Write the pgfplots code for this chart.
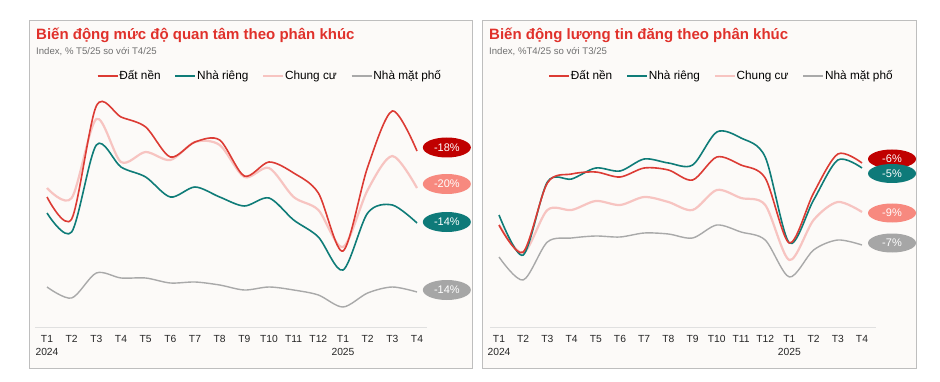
\documentclass[border=0pt]{standalone}
\usepackage{fontspec}
\setmainfont{Liberation Sans}
\usepackage{pgfplots}
\pgfplotsset{compat=1.18}
\usepackage{pgfplotstable}
\usetikzlibrary{shapes.geometric}

\definecolor{cRed}{HTML}{DC3B34}
\definecolor{cTeal}{HTML}{0F7C78}
\definecolor{cPink}{HTML}{F7C4C1}
\definecolor{cGray}{HTML}{A9A9A9}
\definecolor{lRed}{HTML}{C00000}
\definecolor{lPink}{HTML}{F7897F}
\definecolor{lTeal}{HTML}{0E7A79}
\definecolor{lGray}{HTML}{A6A6A6}
\definecolor{titleRed}{HTML}{E0312B}
\definecolor{panelBg}{HTML}{FCFAF8}
\definecolor{panelBorder}{HTML}{BEBEBE}
\definecolor{tickText}{HTML}{262626}
\definecolor{subText}{HTML}{707070}

% Index values (relative scale)
\pgfplotstableread{
x  datnen nharieng chungcu matpho
0  184 168 193 94
1  162 149 183 83
2  275 236 262 108
3  264 214 219 103
4  254 204 229 103
5  224 184 221 98
6  239 194 239 99
7  241 184 236 96
8  205 175 204 91
9  219 183 213 94
10 208 161 184 91
11 188 144 171 86
12 130 111 134 74
13 214 168 191 88
14 270 176 225 94
15 230 158 193 89
}\interest

\pgfplotstableread{
x  datnen nharieng chungcu matpho
0  156 166 156 124
1  129 126 128 101
2  198 199 171 139
3  207 202 171 143
4  209 213 180 145
5  204 210 176 144
6  213 222 184 148
7  211 218 179 147
8  201 216 171 143
9  224 249 191 156
10 216 243 183 149
11 203 224 176 141
12 138 138 121 104
13 188 181 161 131
14 227 221 179 141
15 218 213 169 136
}\listings

\tikzset{
  lab/.style={ellipse, text=white, minimum width=48pt, minimum height=20pt, inner sep=0pt, font=\fontsize{11}{12}\selectfont},
}

\pgfplotsset{
  panel/.style={
    scale only axis, height=235pt,
    xmin=0, xmax=15, ymin=51, ymax=286,
    clip=false,
    axis line style={draw=none},
    major tick length=0pt,
    ytick=\empty,
    xtick={0,...,15},
    xticklabels={{T1\\2024},T2,T3,T4,T5,T6,T7,T8,T9,T10,T11,T12,{T1\\2025},T2,T3,T4},
    xticklabel style={align=center, font=\fontsize{10.3}{13.5}\selectfont, text=tickText, inner sep=0pt, yshift=-5pt},
    legend columns=4,
    legend image code/.code={\draw[##1] (0pt,0pt) -- (20pt,0pt);},
    legend style={draw=none, fill=none, anchor=center, inner sep=0pt,
      font=\fontsize{11.8}{13}\selectfont,
      /tikz/every even column/.append style={column sep=13pt},
      nodes={inner sep=1pt}},
  },
  sRed/.style={cRed, line width=1.6pt, smooth, tension=0.5},
  sTeal/.style={cTeal, line width=1.6pt, smooth, tension=0.5},
  sPink/.style={cPink, line width=2.2pt, smooth, tension=0.5},
  sGray/.style={cGray, line width=1.4pt, smooth, tension=0.5},
}

\begin{document}
\begin{tikzpicture}
\path[use as bounding box, fill=white] (0pt,0pt) rectangle (940pt,381pt);
% panels
\draw[panelBorder, fill=panelBg, line width=0.9pt] (29pt,13pt) rectangle (472pt,361pt);
\draw[panelBorder, fill=panelBg, line width=0.9pt] (482pt,13pt) rectangle (916pt,361pt);
% titles
\node[anchor=base west, inner sep=0pt, text=titleRed, font=\bfseries\fontsize{15}{17}\selectfont] at (36pt,341pt) {Biến động mức độ quan tâm theo phân khúc};
\node[anchor=base west, inner sep=0pt, text=subText, font=\fontsize{9.6}{11}\selectfont] at (36pt,326.7pt) {Index, \% T5/25 so với T4/25};
\node[anchor=base west, inner sep=0pt, text=titleRed, font=\bfseries\fontsize{15}{17}\selectfont] at (489pt,341pt) {Biến động lượng tin đăng theo phân khúc};
\node[anchor=base west, inner sep=0pt, text=subText, font=\fontsize{9.6}{11}\selectfont] at (489pt,326.7pt) {Index, \%T4/25 so với T3/25};

% left panel
\begin{axis}[panel, width=370pt, at={(47pt,51pt)}, anchor=south west,
  legend style={at={(0.601,1.081)}}]
  \addlegendimage{cRed, line width=1.6pt}
  \addlegendentry{Đất nền}
  \addlegendimage{cTeal, line width=1.6pt}
  \addlegendentry{Nhà riêng}
  \addlegendimage{cPink, line width=1.6pt}
  \addlegendentry{Chung cư}
  \addlegendimage{cGray, line width=1.6pt}
  \addlegendentry{Nhà mặt phố}
  \draw[black!12, line width=0.8pt] (axis cs:-0.49,54) -- (axis cs:15.4,54);
  \addplot[sPink, forget plot] table[x=x, y=chungcu] {\interest};
  \addplot[sGray, forget plot] table[x=x, y=matpho] {\interest};
  \addplot[sTeal, forget plot] table[x=x, y=nharieng] {\interest};
  \addplot[sRed, forget plot] table[x=x, y=datnen] {\interest};
  \node[lab, fill=lRed] at (axis cs:16.21,233.5) {-18\%};
  \node[lab, fill=lPink] at (axis cs:16.21,197) {-20\%};
  \node[lab, fill=lTeal] at (axis cs:16.21,159) {-14\%};
  \node[lab, fill=lGray] at (axis cs:16.21,91) {-14\%};
\end{axis}

% right panel
\begin{axis}[panel, width=363pt, at={(499pt,51pt)}, anchor=south west,
  legend style={at={(0.6116,1.081)}}]
  \addlegendimage{cRed, line width=1.6pt}
  \addlegendentry{Đất nền}
  \addlegendimage{cTeal, line width=1.6pt}
  \addlegendentry{Nhà riêng}
  \addlegendimage{cPink, line width=1.6pt}
  \addlegendentry{Chung cư}
  \addlegendimage{cGray, line width=1.6pt}
  \addlegendentry{Nhà mặt phố}
  \draw[black!12, line width=0.8pt] (axis cs:-0.37,54) -- (axis cs:15.58,54);
  \addplot[sPink, forget plot] table[x=x, y=chungcu] {\listings};
  \addplot[sGray, forget plot] table[x=x, y=matpho] {\listings};
  \addplot[sTeal, forget plot] table[x=x, y=nharieng] {\listings};
  \addplot[sRed, forget plot] table[x=x, y=datnen] {\listings};
  \node[lab, fill=lRed, minimum height=19pt] at (axis cs:16.24,222) {-6\%};
  \node[lab, fill=lTeal, minimum height=19pt] at (axis cs:16.24,207.5) {-5\%};
  \node[lab, fill=lPink, minimum height=19pt] at (axis cs:16.24,168) {-9\%};
  \node[lab, fill=lGray, minimum height=19pt] at (axis cs:16.24,138) {-7\%};
\end{axis}
\end{tikzpicture}
\end{document}
